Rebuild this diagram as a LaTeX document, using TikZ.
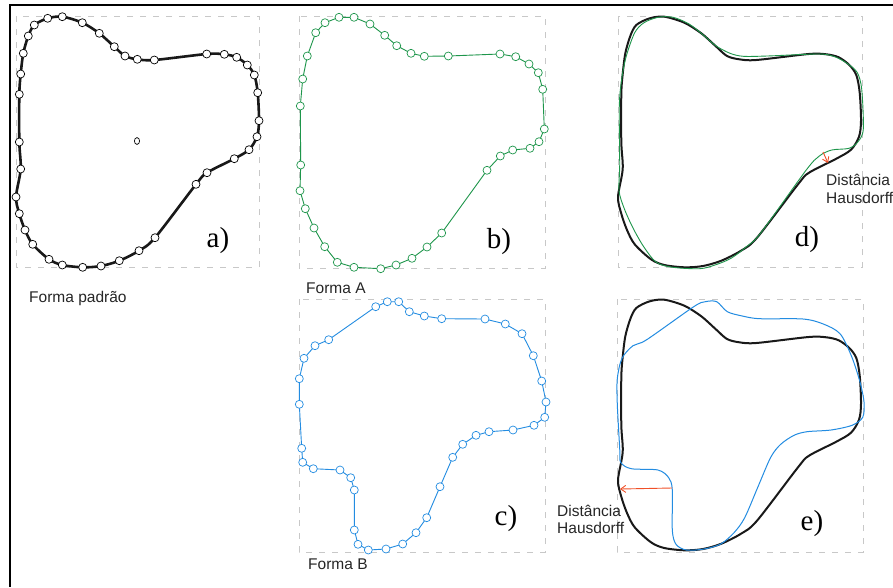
\documentclass[tikz,border=0pt]{standalone}
\usepackage{fontspec}
\setmainfont{Liberation Serif}
\setsansfont{Liberation Sans}
\usetikzlibrary{arrows.meta}
\definecolor{cgreen}{RGB}{30,150,75}
\definecolor{cblue}{RGB}{35,140,225}
\definecolor{cred}{RGB}{240,80,40}
\definecolor{cgrid}{RGB}{200,200,200}
\def\ptsA{(47.7,18.3) (62.3,16.7) (82.3,22.7) (99.3,33.3) (114.3,46.7) (125,56) (137.3,59.3) (154.3,60) (206.7,54) (224.3,54.3) (236.7,57.3) (247.3,65) (254.3,75) (257.7,92.7) (259,120.7) (257,136.7) (249,149.7) (234.3,158.7) (207,172.7) (196,184.3) (155,237.7) (139,250.7) (119.3,260.7) (101,266) (82.7,267.3) (62.3,265) (49,259.3) (32.7,244.3) (25,230) (19.3,213.7) (16,197) (20.7,169) (19.3,142) (19.3,94.3) (20.7,74) (23.3,53.3) (28.3,36) (34.3,25)}
\def\ptsB{(325,22.7) (339,17.3) (354,17.3) (370,24) (384.7,35.3) (396.7,45.7) (411,53.3) (424.3,56.3) (448.3,56) (500,54) (515.7,56.7) (529,64) (538.3,72.7) (542.7,89.3) (544.3,129) (539,141.7) (530,148.3) (512.7,150) (500.3,156) (487,170.3) (441.7,233) (427,247) (412,258.3) (396,265) (380.7,268.7) (354,267.3) (337.3,262.3) (324.7,246.7) (314,228) (305.3,208.7) (300,190.7) (300.7,165) (300.3,106) (302.7,79) (307.3,56) (315.7,32.7)}
\def\ptsC{(375.7,306.7) (387.3,301.7) (398.7,301.7) (409.3,311.7) (424.3,316) (441.7,318.7) (485,319) (505.3,324) (522,333.7) (533.3,355.7) (541.7,381) (546,402) (544.7,417.3) (534,425.3) (513,430) (489,431.7) (476,435.3) (462.7,444.3) (452.7,457.3) (440,486.7) (426.7,517.7) (416,532.7) (402.7,544) (386,549) (368.3,550) (358,544.3) (354.3,530) (354.3,490) (350.7,477.7) (340,470) (313.3,468.7) (302.7,462.3) (301.7,448.3) (299.3,404.3) (299.3,378.7) (304,358.3) (315,345.7) (328.7,339.7)}
\newcommand\drawshape[3]{\edef\tmpshape{\noexpand\draw[#1] plot[#2] coordinates {#3};}\tmpshape}
\tikzset{
  gridbox/.style={draw=cgrid, line width=0.8pt, dash pattern=on 6pt off 7pt},
  lbl/.style={font=\sffamily\fontsize{15.5}{17.5}\selectfont, text=black!85, inner sep=0pt, align=left},
  panel/.style={font=\rmfamily\fontsize{29}{29}\selectfont, inner sep=0pt},
  hd/.style={draw=cred, line width=0.9pt, -{Straight Barb[length=5pt,width=7pt]}},
}
\begin{document}
\begin{tikzpicture}[x=1pt,y=-1pt]
\useasboundingbox (0,0) rectangle (893,587);
\fill[white] (0,0) rectangle (893,587);
% frame
\draw[line width=2pt] (9,5) -- (893,5);
\draw[line width=2.5pt] (10,4) -- (10,587);
% dashed boxes
\draw[gridbox] (16,16) rectangle (259,267);
\draw[gridbox] (299,16) rectangle (545,268);
\draw[gridbox] (299,299) rectangle (545,552);
\draw[gridbox] (618,16) rectangle (862,267);
\draw[gridbox] (617,299) rectangle (863,552);
% panel a
\drawshape{line width=2.6pt, black!90}{smooth cycle, tension=0.5}{\ptsA}
\drawshape{draw=none}{only marks, mark=*, mark size=4pt, mark options={draw=black, fill=white, solid, line width=0.7pt}}{\ptsA}
\draw[line width=0.7pt] (137,141) ellipse [x radius=2.6, y radius=3.4];
% panel b
\drawshape{cgreen, line width=0.9pt}{sharp cycle, mark=*, mark size=4pt, mark options={draw=cgreen, fill=white, solid, line width=0.7pt}}{\ptsB}
% panel c
\drawshape{cblue, line width=0.9pt}{sharp cycle, mark=*, mark size=4pt, mark options={draw=cblue, fill=white, solid, line width=0.7pt}}{\ptsC}
% panel d
\begin{scope}[shift={(602,0)}]
\drawshape{line width=2pt, black!90}{smooth cycle, tension=0.5}{\ptsA}
\end{scope}
\begin{scope}[shift={(319,0)}]
\drawshape{cgreen, line width=0.9pt}{smooth cycle, tension=0.5}{\ptsB}
\end{scope}
% panel e
\begin{scope}[shift={(602,283)}]
\drawshape{line width=2pt, black!90}{smooth cycle, tension=0.5}{\ptsA}
\end{scope}
\begin{scope}[shift={(318,0)}]
\drawshape{cblue, line width=1pt}{smooth cycle, tension=0.5}{\ptsC}
\end{scope}
% Hausdorff arrows
\coordinate (dA) at (823,152);
\coordinate (dB) at (828,163);
\draw[hd] (dA) -- (dB);
\coordinate (eA) at (672,488);
\coordinate (eB) at (620,489);
\draw[hd] (eA) -- (eB);
% labels
\node[lbl, anchor=base west] (fp) at (29,302) {Forma padrão};
\node[lbl, anchor=base west] (fa) at (306,293) {Forma A};
\node[lbl, anchor=base west] (fb) at (308,569) {Forma B};
\node[lbl, anchor=base west] (hd1) at (826,185) {Distância};
\node[lbl, anchor=base west] (hd2) at (826,203) {Hausdorff};
\node[lbl, anchor=base west] (he1) at (557,516) {Distância};
\node[lbl, anchor=base west] (he2) at (557,533) {Hausdorff};
\node[panel] (la) at (218,241) {a)};
\node[panel] (lb) at (499,242) {b)};
\node[panel] (lc) at (506,519) {c)};
\node[panel] (ld) at (807,240) {d)};
\node[panel] (le) at (812,524) {e)};
\end{tikzpicture}
\end{document}
